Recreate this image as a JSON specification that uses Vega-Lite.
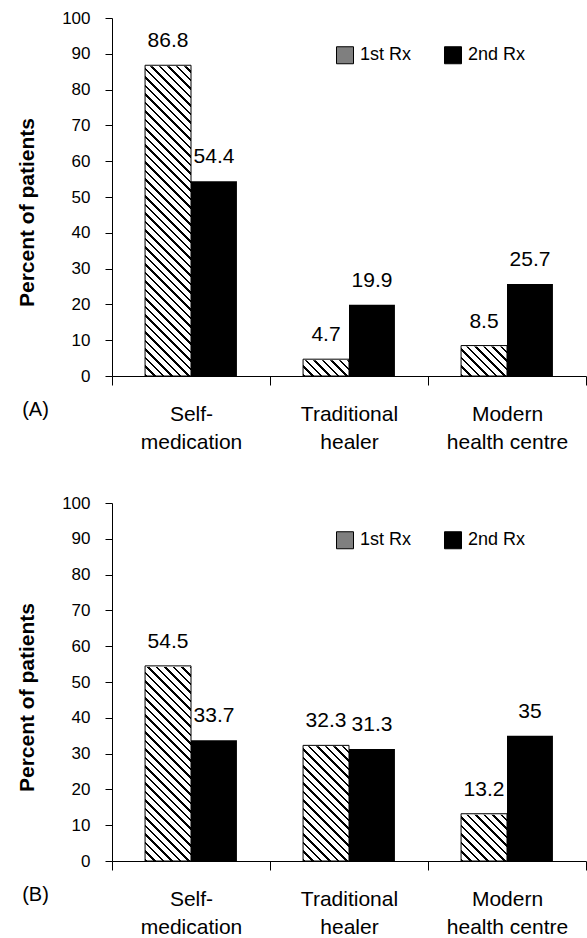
{
  "$schema": "https://vega.github.io/schema/vega-lite/v6.json",
  "padding": {"left": 16, "top": 9, "right": 1, "bottom": 4},
  "spacing": 42,
  "config": {
    "font": "Liberation Sans",
    "view": {"stroke": null},
    "axis": {"domainColor": "#000", "tickColor": "#000", "labelColor": "#000", "titleColor": "#000", "grid": false, "domainWidth": 1, "tickWidth": 1},
    "axisY": {"tickSize": 7, "labelFontSize": 17, "labelPadding": 15, "titleFontSize": 21, "titleFontWeight": "bold", "titlePadding": 24, "titleY": 194, "tickCount": 10},
    "axisX": {"tickSize": 9, "labelFontSize": 21, "labelPadding": 18, "labelLineHeight": 28, "labelAngle": 0, "tickBand": "extent", "titleFontSize": 20, "titleFontWeight": "normal", "titleX": -77, "titleY": 33, "titleAlign": "center", "titleBaseline": "middle", "titleAngle": 0}
  },
  "resolve": {
    "scale": {"x": "independent", "y": "independent", "color": "independent"},
    "axis": {"x": "independent", "y": "independent"},
    "legend": {"color": "independent"}
  },
  "data": {
    "values": [
      {"panel": "A", "source": "Self-medication", "rx": "1st Rx", "pct": 86.8},
      {"panel": "A", "source": "Self-medication", "rx": "2nd Rx", "pct": 54.4},
      {"panel": "A", "source": "Traditional healer", "rx": "1st Rx", "pct": 4.7},
      {"panel": "A", "source": "Traditional healer", "rx": "2nd Rx", "pct": 19.9},
      {"panel": "A", "source": "Modern health centre", "rx": "1st Rx", "pct": 8.5},
      {"panel": "A", "source": "Modern health centre", "rx": "2nd Rx", "pct": 25.7},
      {"panel": "B", "source": "Self-medication", "rx": "1st Rx", "pct": 54.5},
      {"panel": "B", "source": "Self-medication", "rx": "2nd Rx", "pct": 33.7},
      {"panel": "B", "source": "Traditional healer", "rx": "1st Rx", "pct": 32.3},
      {"panel": "B", "source": "Traditional healer", "rx": "2nd Rx", "pct": 31.3},
      {"panel": "B", "source": "Modern health centre", "rx": "1st Rx", "pct": 13.2},
      {"panel": "B", "source": "Modern health centre", "rx": "2nd Rx", "pct": 35}
    ]
  },
  "vconcat": [
    {
      "width": 474, "height": 358,
      "transform": [{"filter": "datum.panel == 'A'"}],
      "encoding": {
        "x": {"field": "source", "type": "nominal", "sort": ["Self-medication", "Traditional healer", "Modern health centre"], "scale": {"paddingInner": 0, "paddingOuter": 0},
              "axis": {"title": "(A)", "labelExpr": "datum.value == 'Self-medication' ? ['Self-', 'medication'] : datum.value == 'Traditional healer' ? ['Traditional', 'healer'] : datum.value == 'Modern health centre' ? ['Modern', 'health centre'] : ''"}},
        "xOffset": {"field": "rx", "type": "nominal", "scale": {"domain": ["1st Rx", "2nd Rx"], "paddingInner": 0, "paddingOuter": 0.72}},
        "y": {"field": "pct", "type": "quantitative", "scale": {"domain": [0, 100]}, "axis": {"title": "Percent of patients"}}
      },
      "layer": [
        {"transform": [{"filter": "datum.rx == '1st Rx'"}],
         "mark": {"type": "bar", "fill": {
          "gradient": "linear", "x1": 0, "y1": 1, "x2": 0.1499, "y2": -0.1679,
          "stops": [
            {"offset":0,"color":"#000"},{"offset":0.006,"color":"#000"},{"offset":0.006,"color":"#fff"},{"offset":0.02,"color":"#fff"},
            {"offset":0.02,"color":"#000"},{"offset":0.026,"color":"#000"},{"offset":0.026,"color":"#fff"},{"offset":0.04,"color":"#fff"},
            {"offset":0.04,"color":"#000"},{"offset":0.046,"color":"#000"},{"offset":0.046,"color":"#fff"},{"offset":0.06,"color":"#fff"},
            {"offset":0.06,"color":"#000"},{"offset":0.066,"color":"#000"},{"offset":0.066,"color":"#fff"},{"offset":0.08,"color":"#fff"},
            {"offset":0.08,"color":"#000"},{"offset":0.086,"color":"#000"},{"offset":0.086,"color":"#fff"},{"offset":0.1,"color":"#fff"},
            {"offset":0.1,"color":"#000"},{"offset":0.106,"color":"#000"},{"offset":0.106,"color":"#fff"},{"offset":0.12,"color":"#fff"},
            {"offset":0.12,"color":"#000"},{"offset":0.126,"color":"#000"},{"offset":0.126,"color":"#fff"},{"offset":0.14,"color":"#fff"},
            {"offset":0.14,"color":"#000"},{"offset":0.146,"color":"#000"},{"offset":0.146,"color":"#fff"},{"offset":0.16,"color":"#fff"},
            {"offset":0.16,"color":"#000"},{"offset":0.166,"color":"#000"},{"offset":0.166,"color":"#fff"},{"offset":0.18,"color":"#fff"},
            {"offset":0.18,"color":"#000"},{"offset":0.186,"color":"#000"},{"offset":0.186,"color":"#fff"},{"offset":0.2,"color":"#fff"},
            {"offset":0.2,"color":"#000"},{"offset":0.206,"color":"#000"},{"offset":0.206,"color":"#fff"},{"offset":0.22,"color":"#fff"},
            {"offset":0.22,"color":"#000"},{"offset":0.226,"color":"#000"},{"offset":0.226,"color":"#fff"},{"offset":0.24,"color":"#fff"},
            {"offset":0.24,"color":"#000"},{"offset":0.246,"color":"#000"},{"offset":0.246,"color":"#fff"},{"offset":0.26,"color":"#fff"},
            {"offset":0.26,"color":"#000"},{"offset":0.266,"color":"#000"},{"offset":0.266,"color":"#fff"},{"offset":0.28,"color":"#fff"},
            {"offset":0.28,"color":"#000"},{"offset":0.286,"color":"#000"},{"offset":0.286,"color":"#fff"},{"offset":0.3,"color":"#fff"},
            {"offset":0.3,"color":"#000"},{"offset":0.306,"color":"#000"},{"offset":0.306,"color":"#fff"},{"offset":0.32,"color":"#fff"},
            {"offset":0.32,"color":"#000"},{"offset":0.326,"color":"#000"},{"offset":0.326,"color":"#fff"},{"offset":0.34,"color":"#fff"},
            {"offset":0.34,"color":"#000"},{"offset":0.346,"color":"#000"},{"offset":0.346,"color":"#fff"},{"offset":0.36,"color":"#fff"},
            {"offset":0.36,"color":"#000"},{"offset":0.366,"color":"#000"},{"offset":0.366,"color":"#fff"},{"offset":0.38,"color":"#fff"},
            {"offset":0.38,"color":"#000"},{"offset":0.386,"color":"#000"},{"offset":0.386,"color":"#fff"},{"offset":0.4,"color":"#fff"},
            {"offset":0.4,"color":"#000"},{"offset":0.406,"color":"#000"},{"offset":0.406,"color":"#fff"},{"offset":0.42,"color":"#fff"},
            {"offset":0.42,"color":"#000"},{"offset":0.426,"color":"#000"},{"offset":0.426,"color":"#fff"},{"offset":0.44,"color":"#fff"},
            {"offset":0.44,"color":"#000"},{"offset":0.446,"color":"#000"},{"offset":0.446,"color":"#fff"},{"offset":0.46,"color":"#fff"},
            {"offset":0.46,"color":"#000"},{"offset":0.466,"color":"#000"},{"offset":0.466,"color":"#fff"},{"offset":0.48,"color":"#fff"},
            {"offset":0.48,"color":"#000"},{"offset":0.486,"color":"#000"},{"offset":0.486,"color":"#fff"},{"offset":0.5,"color":"#fff"},
            {"offset":0.5,"color":"#000"},{"offset":0.506,"color":"#000"},{"offset":0.506,"color":"#fff"},{"offset":0.52,"color":"#fff"},
            {"offset":0.52,"color":"#000"},{"offset":0.526,"color":"#000"},{"offset":0.526,"color":"#fff"},{"offset":0.54,"color":"#fff"},
            {"offset":0.54,"color":"#000"},{"offset":0.546,"color":"#000"},{"offset":0.546,"color":"#fff"},{"offset":0.56,"color":"#fff"},
            {"offset":0.56,"color":"#000"},{"offset":0.566,"color":"#000"},{"offset":0.566,"color":"#fff"},{"offset":0.58,"color":"#fff"},
            {"offset":0.58,"color":"#000"},{"offset":0.586,"color":"#000"},{"offset":0.586,"color":"#fff"},{"offset":0.6,"color":"#fff"},
            {"offset":0.6,"color":"#000"},{"offset":0.606,"color":"#000"},{"offset":0.606,"color":"#fff"},{"offset":0.62,"color":"#fff"},
            {"offset":0.62,"color":"#000"},{"offset":0.626,"color":"#000"},{"offset":0.626,"color":"#fff"},{"offset":0.64,"color":"#fff"},
            {"offset":0.64,"color":"#000"},{"offset":0.646,"color":"#000"},{"offset":0.646,"color":"#fff"},{"offset":0.66,"color":"#fff"},
            {"offset":0.66,"color":"#000"},{"offset":0.666,"color":"#000"},{"offset":0.666,"color":"#fff"},{"offset":0.68,"color":"#fff"},
            {"offset":0.68,"color":"#000"},{"offset":0.686,"color":"#000"},{"offset":0.686,"color":"#fff"},{"offset":0.7,"color":"#fff"},
            {"offset":0.7,"color":"#000"},{"offset":0.706,"color":"#000"},{"offset":0.706,"color":"#fff"},{"offset":0.72,"color":"#fff"},
            {"offset":0.72,"color":"#000"},{"offset":0.726,"color":"#000"},{"offset":0.726,"color":"#fff"},{"offset":0.74,"color":"#fff"},
            {"offset":0.74,"color":"#000"},{"offset":0.746,"color":"#000"},{"offset":0.746,"color":"#fff"},{"offset":0.76,"color":"#fff"},
            {"offset":0.76,"color":"#000"},{"offset":0.766,"color":"#000"},{"offset":0.766,"color":"#fff"},{"offset":0.78,"color":"#fff"},
            {"offset":0.78,"color":"#000"},{"offset":0.786,"color":"#000"},{"offset":0.786,"color":"#fff"},{"offset":0.8,"color":"#fff"},
            {"offset":0.8,"color":"#000"},{"offset":0.806,"color":"#000"},{"offset":0.806,"color":"#fff"},{"offset":0.82,"color":"#fff"},
            {"offset":0.82,"color":"#000"},{"offset":0.826,"color":"#000"},{"offset":0.826,"color":"#fff"},{"offset":0.84,"color":"#fff"},
            {"offset":0.84,"color":"#000"},{"offset":0.846,"color":"#000"},{"offset":0.846,"color":"#fff"},{"offset":0.86,"color":"#fff"},
            {"offset":0.86,"color":"#000"},{"offset":0.866,"color":"#000"},{"offset":0.866,"color":"#fff"},{"offset":0.88,"color":"#fff"},
            {"offset":0.88,"color":"#000"},{"offset":0.886,"color":"#000"},{"offset":0.886,"color":"#fff"},{"offset":0.9,"color":"#fff"},
            {"offset":0.9,"color":"#000"},{"offset":0.906,"color":"#000"},{"offset":0.906,"color":"#fff"},{"offset":0.92,"color":"#fff"},
            {"offset":0.92,"color":"#000"},{"offset":0.926,"color":"#000"},{"offset":0.926,"color":"#fff"},{"offset":0.94,"color":"#fff"},
            {"offset":0.94,"color":"#000"},{"offset":0.946,"color":"#000"},{"offset":0.946,"color":"#fff"},{"offset":0.96,"color":"#fff"},
            {"offset":1,"color":"#fff"}
          ]}},
         "encoding": {"y": {"datum": 100, "type": "quantitative", "axis": {"title": "Percent of patients"}}, "y2": {"datum": 0}}},
        {"transform": [{"filter": "datum.rx == '1st Rx'"}], "mark": {"type": "bar", "fill": "#fff", "stroke": "#fff", "strokeWidth": 2},
         "encoding": {"y2": {"datum": 100}}},
        {"transform": [{"filter": "datum.rx == '1st Rx'"}], "mark": {"type": "bar", "fill": "transparent", "stroke": "#000", "strokeWidth": 1}},
        {"transform": [{"filter": "datum.rx == '2nd Rx'"}], "mark": {"type": "bar"},
         "encoding": {"color": {"field": "rx", "type": "nominal", "scale": {"domain": ["1st Rx", "2nd Rx"], "range": ["#7f7f7f", "#000000"]},
           "legend": {"title": null, "orient": "none", "legendX": 224, "legendY": 28, "direction": "horizontal", "symbolType": "square", "symbolSize": 289, "symbolStrokeColor": "#000", "symbolStrokeWidth": 1, "labelFontSize": 18, "labelOffset": 6, "columnPadding": 30, "padding": 0, "labelColor": "#000"}}}},
        {"mark": {"type": "text", "fontSize": 21, "baseline": "alphabetic", "dy": -18, "color": "#000"},
         "encoding": {"text": {"field": "pct", "type": "quantitative"}}}
      ]
    },
    {
      "width": 474, "height": 358,
      "transform": [{"filter": "datum.panel == 'B'"}],
      "encoding": {
        "x": {"field": "source", "type": "nominal", "sort": ["Self-medication", "Traditional healer", "Modern health centre"], "scale": {"paddingInner": 0, "paddingOuter": 0},
              "axis": {"title": "(B)", "labelExpr": "datum.value == 'Self-medication' ? ['Self-', 'medication'] : datum.value == 'Traditional healer' ? ['Traditional', 'healer'] : datum.value == 'Modern health centre' ? ['Modern', 'health centre'] : ''"}},
        "xOffset": {"field": "rx", "type": "nominal", "scale": {"domain": ["1st Rx", "2nd Rx"], "paddingInner": 0, "paddingOuter": 0.72}},
        "y": {"field": "pct", "type": "quantitative", "scale": {"domain": [0, 100]}, "axis": {"title": "Percent of patients"}}
      },
      "layer": [
        {"transform": [{"filter": "datum.rx == '1st Rx'"}],
         "mark": {"type": "bar", "fill": {
          "gradient": "linear", "x1": 0, "y1": 1, "x2": 0.1499, "y2": -0.1679,
          "stops": [
            {"offset":0,"color":"#000"},{"offset":0.006,"color":"#000"},{"offset":0.006,"color":"#fff"},{"offset":0.02,"color":"#fff"},
            {"offset":0.02,"color":"#000"},{"offset":0.026,"color":"#000"},{"offset":0.026,"color":"#fff"},{"offset":0.04,"color":"#fff"},
            {"offset":0.04,"color":"#000"},{"offset":0.046,"color":"#000"},{"offset":0.046,"color":"#fff"},{"offset":0.06,"color":"#fff"},
            {"offset":0.06,"color":"#000"},{"offset":0.066,"color":"#000"},{"offset":0.066,"color":"#fff"},{"offset":0.08,"color":"#fff"},
            {"offset":0.08,"color":"#000"},{"offset":0.086,"color":"#000"},{"offset":0.086,"color":"#fff"},{"offset":0.1,"color":"#fff"},
            {"offset":0.1,"color":"#000"},{"offset":0.106,"color":"#000"},{"offset":0.106,"color":"#fff"},{"offset":0.12,"color":"#fff"},
            {"offset":0.12,"color":"#000"},{"offset":0.126,"color":"#000"},{"offset":0.126,"color":"#fff"},{"offset":0.14,"color":"#fff"},
            {"offset":0.14,"color":"#000"},{"offset":0.146,"color":"#000"},{"offset":0.146,"color":"#fff"},{"offset":0.16,"color":"#fff"},
            {"offset":0.16,"color":"#000"},{"offset":0.166,"color":"#000"},{"offset":0.166,"color":"#fff"},{"offset":0.18,"color":"#fff"},
            {"offset":0.18,"color":"#000"},{"offset":0.186,"color":"#000"},{"offset":0.186,"color":"#fff"},{"offset":0.2,"color":"#fff"},
            {"offset":0.2,"color":"#000"},{"offset":0.206,"color":"#000"},{"offset":0.206,"color":"#fff"},{"offset":0.22,"color":"#fff"},
            {"offset":0.22,"color":"#000"},{"offset":0.226,"color":"#000"},{"offset":0.226,"color":"#fff"},{"offset":0.24,"color":"#fff"},
            {"offset":0.24,"color":"#000"},{"offset":0.246,"color":"#000"},{"offset":0.246,"color":"#fff"},{"offset":0.26,"color":"#fff"},
            {"offset":0.26,"color":"#000"},{"offset":0.266,"color":"#000"},{"offset":0.266,"color":"#fff"},{"offset":0.28,"color":"#fff"},
            {"offset":0.28,"color":"#000"},{"offset":0.286,"color":"#000"},{"offset":0.286,"color":"#fff"},{"offset":0.3,"color":"#fff"},
            {"offset":0.3,"color":"#000"},{"offset":0.306,"color":"#000"},{"offset":0.306,"color":"#fff"},{"offset":0.32,"color":"#fff"},
            {"offset":0.32,"color":"#000"},{"offset":0.326,"color":"#000"},{"offset":0.326,"color":"#fff"},{"offset":0.34,"color":"#fff"},
            {"offset":0.34,"color":"#000"},{"offset":0.346,"color":"#000"},{"offset":0.346,"color":"#fff"},{"offset":0.36,"color":"#fff"},
            {"offset":0.36,"color":"#000"},{"offset":0.366,"color":"#000"},{"offset":0.366,"color":"#fff"},{"offset":0.38,"color":"#fff"},
            {"offset":0.38,"color":"#000"},{"offset":0.386,"color":"#000"},{"offset":0.386,"color":"#fff"},{"offset":0.4,"color":"#fff"},
            {"offset":0.4,"color":"#000"},{"offset":0.406,"color":"#000"},{"offset":0.406,"color":"#fff"},{"offset":0.42,"color":"#fff"},
            {"offset":0.42,"color":"#000"},{"offset":0.426,"color":"#000"},{"offset":0.426,"color":"#fff"},{"offset":0.44,"color":"#fff"},
            {"offset":0.44,"color":"#000"},{"offset":0.446,"color":"#000"},{"offset":0.446,"color":"#fff"},{"offset":0.46,"color":"#fff"},
            {"offset":0.46,"color":"#000"},{"offset":0.466,"color":"#000"},{"offset":0.466,"color":"#fff"},{"offset":0.48,"color":"#fff"},
            {"offset":0.48,"color":"#000"},{"offset":0.486,"color":"#000"},{"offset":0.486,"color":"#fff"},{"offset":0.5,"color":"#fff"},
            {"offset":0.5,"color":"#000"},{"offset":0.506,"color":"#000"},{"offset":0.506,"color":"#fff"},{"offset":0.52,"color":"#fff"},
            {"offset":0.52,"color":"#000"},{"offset":0.526,"color":"#000"},{"offset":0.526,"color":"#fff"},{"offset":0.54,"color":"#fff"},
            {"offset":0.54,"color":"#000"},{"offset":0.546,"color":"#000"},{"offset":0.546,"color":"#fff"},{"offset":0.56,"color":"#fff"},
            {"offset":0.56,"color":"#000"},{"offset":0.566,"color":"#000"},{"offset":0.566,"color":"#fff"},{"offset":0.58,"color":"#fff"},
            {"offset":0.58,"color":"#000"},{"offset":0.586,"color":"#000"},{"offset":0.586,"color":"#fff"},{"offset":0.6,"color":"#fff"},
            {"offset":0.6,"color":"#000"},{"offset":0.606,"color":"#000"},{"offset":0.606,"color":"#fff"},{"offset":0.62,"color":"#fff"},
            {"offset":0.62,"color":"#000"},{"offset":0.626,"color":"#000"},{"offset":0.626,"color":"#fff"},{"offset":0.64,"color":"#fff"},
            {"offset":0.64,"color":"#000"},{"offset":0.646,"color":"#000"},{"offset":0.646,"color":"#fff"},{"offset":0.66,"color":"#fff"},
            {"offset":0.66,"color":"#000"},{"offset":0.666,"color":"#000"},{"offset":0.666,"color":"#fff"},{"offset":0.68,"color":"#fff"},
            {"offset":0.68,"color":"#000"},{"offset":0.686,"color":"#000"},{"offset":0.686,"color":"#fff"},{"offset":0.7,"color":"#fff"},
            {"offset":0.7,"color":"#000"},{"offset":0.706,"color":"#000"},{"offset":0.706,"color":"#fff"},{"offset":0.72,"color":"#fff"},
            {"offset":0.72,"color":"#000"},{"offset":0.726,"color":"#000"},{"offset":0.726,"color":"#fff"},{"offset":0.74,"color":"#fff"},
            {"offset":0.74,"color":"#000"},{"offset":0.746,"color":"#000"},{"offset":0.746,"color":"#fff"},{"offset":0.76,"color":"#fff"},
            {"offset":0.76,"color":"#000"},{"offset":0.766,"color":"#000"},{"offset":0.766,"color":"#fff"},{"offset":0.78,"color":"#fff"},
            {"offset":0.78,"color":"#000"},{"offset":0.786,"color":"#000"},{"offset":0.786,"color":"#fff"},{"offset":0.8,"color":"#fff"},
            {"offset":0.8,"color":"#000"},{"offset":0.806,"color":"#000"},{"offset":0.806,"color":"#fff"},{"offset":0.82,"color":"#fff"},
            {"offset":0.82,"color":"#000"},{"offset":0.826,"color":"#000"},{"offset":0.826,"color":"#fff"},{"offset":0.84,"color":"#fff"},
            {"offset":0.84,"color":"#000"},{"offset":0.846,"color":"#000"},{"offset":0.846,"color":"#fff"},{"offset":0.86,"color":"#fff"},
            {"offset":0.86,"color":"#000"},{"offset":0.866,"color":"#000"},{"offset":0.866,"color":"#fff"},{"offset":0.88,"color":"#fff"},
            {"offset":0.88,"color":"#000"},{"offset":0.886,"color":"#000"},{"offset":0.886,"color":"#fff"},{"offset":0.9,"color":"#fff"},
            {"offset":0.9,"color":"#000"},{"offset":0.906,"color":"#000"},{"offset":0.906,"color":"#fff"},{"offset":0.92,"color":"#fff"},
            {"offset":0.92,"color":"#000"},{"offset":0.926,"color":"#000"},{"offset":0.926,"color":"#fff"},{"offset":0.94,"color":"#fff"},
            {"offset":0.94,"color":"#000"},{"offset":0.946,"color":"#000"},{"offset":0.946,"color":"#fff"},{"offset":0.96,"color":"#fff"},
            {"offset":1,"color":"#fff"}
          ]}},
         "encoding": {"y": {"datum": 100, "type": "quantitative", "axis": {"title": "Percent of patients"}}, "y2": {"datum": 0}}},
        {"transform": [{"filter": "datum.rx == '1st Rx'"}], "mark": {"type": "bar", "fill": "#fff", "stroke": "#fff", "strokeWidth": 2},
         "encoding": {"y2": {"datum": 100}}},
        {"transform": [{"filter": "datum.rx == '1st Rx'"}], "mark": {"type": "bar", "fill": "transparent", "stroke": "#000", "strokeWidth": 1}},
        {"transform": [{"filter": "datum.rx == '2nd Rx'"}], "mark": {"type": "bar"},
         "encoding": {"color": {"field": "rx", "type": "nominal", "scale": {"domain": ["1st Rx", "2nd Rx"], "range": ["#7f7f7f", "#000000"]},
           "legend": {"title": null, "orient": "none", "legendX": 224, "legendY": 28, "direction": "horizontal", "symbolType": "square", "symbolSize": 289, "symbolStrokeColor": "#000", "symbolStrokeWidth": 1, "labelFontSize": 18, "labelOffset": 6, "columnPadding": 30, "padding": 0, "labelColor": "#000"}}}},
        {"mark": {"type": "text", "fontSize": 21, "baseline": "alphabetic", "dy": -18, "color": "#000"},
         "encoding": {"text": {"field": "pct", "type": "quantitative"}}}
      ]
    }
  ]
}
